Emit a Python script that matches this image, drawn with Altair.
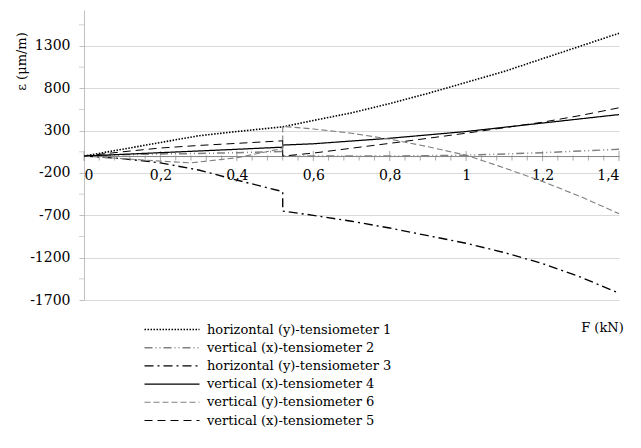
import altair as alt
import pandas as pd

# ---- data ----
names = [
    "horizontal (y)-tensiometer 1",
    "vertical (x)-tensiometer 2",
    "horizontal (y)-tensiometer 3",
    "vertical (x)-tensiometer 4",
    "vertical (y)-tensiometer 6",
    "vertical (x)-tensiometer 5",
]

s1_x = [0, 0.1, 0.2, 0.3, 0.4, 0.52, 0.6, 0.7, 0.8, 0.9, 1.0, 1.1, 1.2, 1.3, 1.4]
s1_y = [0, 80, 160, 240, 290, 345, 420, 510, 620, 740, 870, 1000, 1150, 1300, 1450]

s2_x = [0, 0.1, 0.2, 0.3, 0.4, 0.52, 0.52, 0.6, 0.8, 1.0, 1.2, 1.4]
s2_y = [0, 15, 25, 30, 40, 55, 0, 0, 0, 10, 40, 80]

s3_x = [0, 0.1, 0.2, 0.3, 0.4, 0.52, 0.52, 0.6, 0.7, 0.8, 0.9, 1.0, 1.1, 1.2, 1.3, 1.4]
s3_y = [0, -30, -80, -165, -284, -420, -650, -700, -770, -850, -940, -1030, -1140, -1270, -1430, -1620]

s4_x = [0, 0.1, 0.2, 0.3, 0.4, 0.52, 0.52, 0.6, 0.8, 1.0, 1.2, 1.4]
s4_y = [0, 20, 40, 60, 80, 105, 130, 145, 210, 290, 390, 490]

s6_x = [0, 0.1, 0.2, 0.28, 0.4, 0.52, 0.52, 0.6, 0.7, 0.8, 0.9, 1.0, 1.1, 1.2, 1.3, 1.4]
s6_y = [0, -30, -60, -80, -20, 90, 350, 320, 270, 200, 110, 10, -140, -300, -480, -680]

s5_x = [0, 0.1, 0.2, 0.3, 0.4, 0.52, 0.52, 0.6, 0.8, 1.0, 1.2, 1.3, 1.4]
s5_y = [0, 50, 95, 125, 150, 180, 0, 35, 150, 270, 400, 480, 570]

x_major = [0, 0.2, 0.4, 0.6, 0.8, 1.0, 1.2, 1.4]
x_minor = [round(i * 0.04, 2) for i in range(36) if i % 5 != 0]
y_major = [-1700, -1200, -700, -200, 300, 800, 1300]
y_minor = [-1450, -950, -450, 50, 550, 1050, 1550]

Y_MIN, Y_MAX = -1700, 1725
W, H = 535, 290
FONT = "DejaVu Serif"

series = [
    (names[0], s1_x, s1_y),
    (names[1], s2_x, s2_y),
    (names[2], s3_x, s3_y),
    (names[3], s4_x, s4_y),
    (names[4], s6_x, s6_y),
    (names[5], s5_x, s5_y),
]
rows = []
for name, xs, ys in series:
    for i, (a, b) in enumerate(zip(xs, ys)):
        rows.append({"series": name, "F": a, "eps": b, "idx": i})
df = pd.DataFrame(rows)

colors = ["#000000", "#808080", "#000000", "#000000", "#808080", "#000000"]
dashes = [[1.5, 1.5], [8, 3, 1, 3, 1, 3], [9, 4, 2, 4], [1, 0], [6, 3], [8, 5]]
widths = [1.6, 1, 3, 1, 1, 3]

y0_off = -(H * (0 - Y_MIN) / (Y_MAX - Y_MIN))  # move x axis to eps = 0

xscale = alt.Scale(domain=[0, 1.4], nice=False, zero=False)
yscale = alt.Scale(domain=[Y_MIN, Y_MAX], nice=False, zero=False)

lines = alt.Chart(df).mark_line(clip=True).encode(
    x=alt.X("F:Q", scale=xscale, axis=alt.Axis(
        values=x_major, grid=False, ticks=False, offset=y0_off,
        domainColor="#868686", labelPadding=12,
        labelExpr="replace(format(datum.value, '.1~f'), '.', ',')",
        title="F (kN)", titleX=518, titleY=171, titleAlign="center",
        titleBaseline="middle", titleFontWeight="normal", titleFontSize=13)),
    y=alt.Y("eps:Q", scale=yscale, axis=alt.Axis(
        values=y_major, grid=True, gridColor="#d9d9d9", tickColor="#bfbfbf",
        tickSize=5, domainColor="#bfbfbf", labelPadding=9,
        labelExpr="toString(datum.value)",
        title="ε (μm/m)", titleX=-63, titleY=51, titleAngle=270,
        titleAlign="center", titleBaseline="middle",
        titleFontWeight="normal", titleFontSize=13)),
    color=alt.Color("series:N", scale=alt.Scale(domain=names, range=colors),
                    legend=alt.Legend(title=None)),
    strokeDash=alt.StrokeDash("series:N", scale=alt.Scale(domain=names, range=dashes),
                              legend=alt.Legend(title=None)),
    strokeWidth=alt.StrokeWidth("series:N", scale=alt.Scale(domain=names, range=widths),
                                legend=alt.Legend(title=None)),
    order="idx:Q",
)

xt_major = alt.Chart(pd.DataFrame({"t": x_major, "z": [0] * len(x_major)})).mark_tick(
    orient="vertical", size=10, thickness=1, color="#868686").encode(
    x=alt.X("t:Q", scale=xscale), y=alt.Y("z:Q", scale=yscale))
xt_minor = alt.Chart(pd.DataFrame({"t": x_minor, "z": [0] * len(x_minor)})).mark_tick(
    orient="vertical", size=5, thickness=1, color="#868686", yOffset=2).encode(
    x=alt.X("t:Q", scale=xscale), y=alt.Y("z:Q", scale=yscale))
yt_minor = alt.Chart(pd.DataFrame({"t": y_minor, "z": [0] * len(y_minor)})).mark_tick(
    orient="horizontal", size=5, thickness=1, color="#bfbfbf", xOffset=-2.5).encode(
    y=alt.Y("t:Q", scale=yscale), x=alt.X("z:Q", scale=xscale))

chart = alt.layer(xt_major, xt_minor, yt_minor, lines).properties(
    width=W, height=H,
    autosize=alt.AutoSizeParams(type="none"),
    padding={"left": 76, "top": 2, "right": 14, "bottom": 140},
).configure(font=FONT).configure_view(stroke=None).configure_axis(
    labelFont=FONT, titleFont=FONT,
    labelFontSize=14, labelColor="#000000", titleColor="#000000",
).configure_legend(
    orient="none", legendX=59, legendY=313, padding=0,
    symbolType="M-1,0H10", symbolSize=100, labelFont=FONT, labelLimit=0,
    labelFontSize=13, labelColor="#000000", rowPadding=4.2, labelOffset=51,
    symbolStrokeColor="#000000",
)

chart.save("out.html", embed_options={"renderer": "svg", "actions": False})
